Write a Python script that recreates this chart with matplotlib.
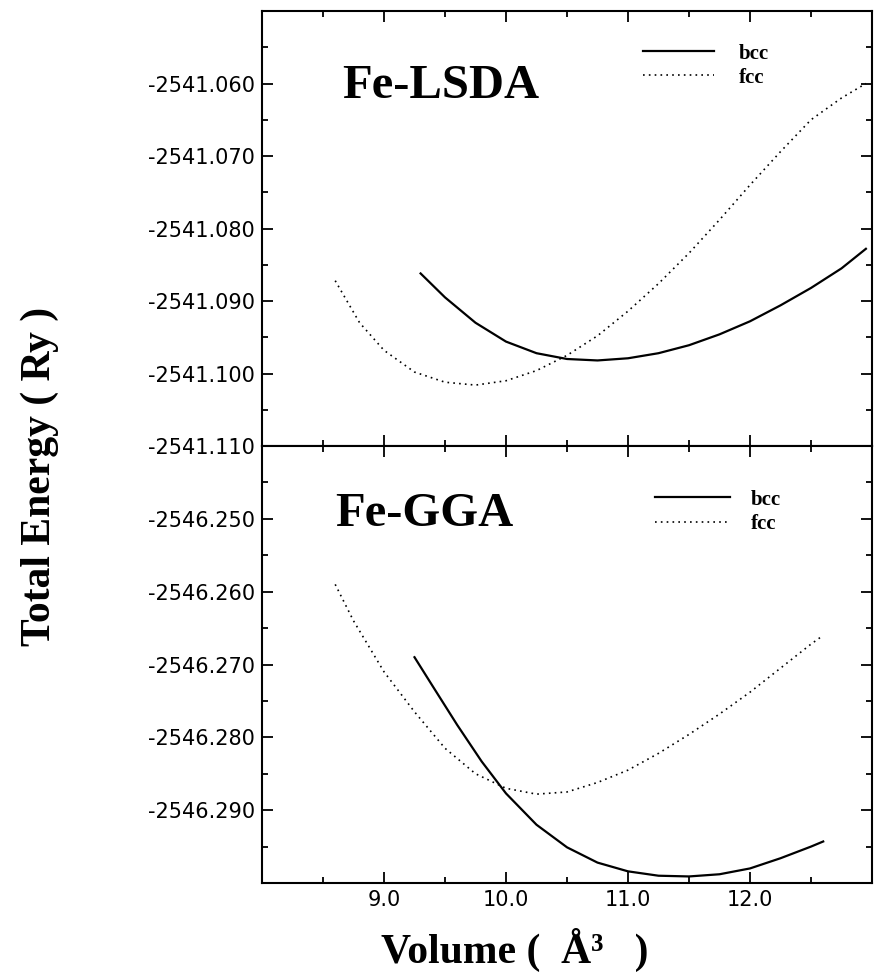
import matplotlib
matplotlib.use("Agg")
import matplotlib.pyplot as plt
from matplotlib.ticker import MultipleLocator, FormatStrFormatter

# Fe-LSDA, total energy (Ry) vs volume (A^3)
lsda_bcc_v = [9.30, 9.50, 9.75, 10.00, 10.25, 10.50, 10.75, 11.00, 11.25,
              11.50, 11.75, 12.00, 12.25, 12.50, 12.75, 12.95]
lsda_bcc_e = [-2541.0862, -2541.0895, -2541.0930, -2541.0956, -2541.0972,
              -2541.0980, -2541.0982, -2541.0979, -2541.0972, -2541.0961, -2541.0946,
              -2541.0928, -2541.0906, -2541.0882, -2541.0855, -2541.0828]
lsda_fcc_v = [8.60, 8.80, 9.00, 9.25, 9.50, 9.75, 10.00, 10.25, 10.50, 10.75,
              11.00, 11.25, 11.50, 11.75, 12.00, 12.25, 12.50, 12.75, 12.95]
lsda_fcc_e = [-2541.0872, -2541.0930, -2541.0968, -2541.0998, -2541.1012, -2541.1016,
              -2541.1010, -2541.0996, -2541.0975, -2541.0948, -2541.0914, -2541.0876,
              -2541.0834, -2541.0788, -2541.0740, -2541.0694, -2541.0650, -2541.0620,
              -2541.0600]

# Fe-GGA
gga_bcc_v = [9.25, 9.40, 9.60, 9.80, 10.00, 10.25, 10.50, 10.75, 11.00, 11.25,
             11.50, 11.75, 12.00, 12.25, 12.50, 12.60]
gga_bcc_e = [-2546.2690, -2546.2730, -2546.2783, -2546.2833, -2546.2877, -2546.2920,
             -2546.2951, -2546.2972, -2546.2984, -2546.2990, -2546.2991, -2546.2988,
             -2546.2980, -2546.2966, -2546.2950, -2546.2943]
gga_fcc_v = [8.60, 8.75, 9.00, 9.25, 9.50, 9.75, 10.00, 10.25, 10.50, 10.75,
             11.00, 11.25, 11.50, 11.75, 12.00, 12.25, 12.50, 12.60]
gga_fcc_e = [-2546.2590, -2546.2640, -2546.2710, -2546.2765, -2546.2815, -2546.2850,
             -2546.2870, -2546.2878, -2546.2875, -2546.2862, -2546.2845, -2546.2822,
             -2546.2796, -2546.2768, -2546.2738, -2546.2705, -2546.2672, -2546.2660]

x_ticks = [9.0, 10.0, 11.0, 12.0]
lsda_yticks = [-2541.110, -2541.100, -2541.090, -2541.080, -2541.070, -2541.060]
gga_yticks = [-2546.290, -2546.280, -2546.270, -2546.260, -2546.250]
lsda_ylim = (-2541.110, -2541.050)
gga_ylim = (-2546.300, -2546.240)

serif = ["Liberation Serif", "DejaVu Serif"]
plt.rcParams["font.family"] = "DejaVu Sans"

fig = plt.figure(figsize=(8.82, 9.8), dpi=100)
ax1 = fig.add_axes([262 / 882, 1 - 446 / 980, 610 / 882, 435 / 980])
ax2 = fig.add_axes([262 / 882, 1 - 883 / 980, 610 / 882, 437 / 980], sharex=ax1)

dotted = (0, (1, 2.5))
ax1.plot(lsda_bcc_v, lsda_bcc_e, "k-", lw=1.6, label="bcc")
ax1.plot(lsda_fcc_v, lsda_fcc_e, color="k", ls=dotted, lw=1.2, label="fcc")
ax2.plot(gga_bcc_v, gga_bcc_e, "k-", lw=1.6, label="bcc")
ax2.plot(gga_fcc_v, gga_fcc_e, color="k", ls=dotted, lw=1.2, label="fcc")

ax1.set_ylim(*lsda_ylim)
ax2.set_ylim(*gga_ylim)
ax1.set_xlim(8.0, 13.0)
ax2.set_xticks(x_ticks)
ax2.xaxis.set_major_formatter(FormatStrFormatter("%.1f"))
ax1.set_yticks(lsda_yticks)
ax2.set_yticks(gga_yticks)

for ax in (ax1, ax2):
    ax.yaxis.set_minor_locator(MultipleLocator(0.005))
    ax.xaxis.set_minor_locator(MultipleLocator(0.5))
    ax.yaxis.set_major_formatter(FormatStrFormatter("%.3f"))
    ax.tick_params(which="both", direction="in", top=True, right=True, width=1.3)
    ax.tick_params(which="major", length=8, labelsize=15, pad=5)
    ax.tick_params(which="minor", length=4)
    for s in ax.spines.values():
        s.set_linewidth(1.5)
ax1.tick_params(axis="x", labelbottom=False)

ax1.text(0.131, 0.828, "Fe-LSDA", transform=ax1.transAxes, family=serif,
         fontweight="bold", fontsize=35, va="center")
ax2.text(0.12, 0.844, "Fe-GGA", transform=ax2.transAxes, family=serif,
         fontweight="bold", fontsize=35, va="center")

leg_font = {"family": serif, "weight": "bold", "size": 15}
ax1.legend(loc="upper left", bbox_to_anchor=(0.625, 0.925), frameon=False,
           prop=leg_font, handlelength=3.4, handletextpad=1.2, labelspacing=0.2,
           borderpad=0, borderaxespad=0)
ax2.legend(loc="upper left", bbox_to_anchor=(0.644, 0.9), frameon=False,
           prop=leg_font, handlelength=3.6, handletextpad=1.0, labelspacing=0.2,
           borderpad=0, borderaxespad=0)

fig.text(40 / 882, 1 - 476 / 980, "Total Energy ( Ry )", rotation=90,
         family=serif, fontweight="bold", fontsize=30, ha="center", va="center")
fig.text(515 / 882, 1 - 950 / 980, "Volume (  Å³   )", family=serif,
         fontweight="bold", fontsize=30, ha="center", va="center")

fig.savefig("out.png", dpi=100)
